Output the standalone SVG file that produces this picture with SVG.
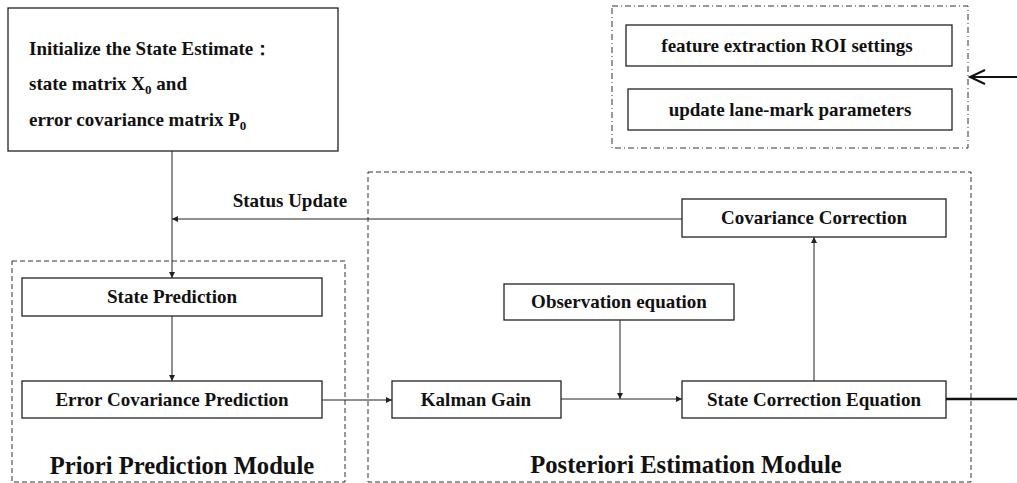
<svg xmlns="http://www.w3.org/2000/svg" width="1017" height="483" viewBox="0 0 1017 483">
<defs>
<style>
.box{fill:#fff;stroke:#222;stroke-width:1.3}
.mod{fill:none;stroke:#333;stroke-width:1;stroke-dasharray:5 3}
.roi{fill:none;stroke:#333;stroke-width:1;stroke-dasharray:6 3 1 3}
.t{font-family:"Liberation Serif","Times New Roman",serif;font-weight:bold;font-size:19px;fill:#111}
.c{text-anchor:middle}
.big{font-size:24.6px}
.ln{fill:none;stroke:#222;stroke-width:1}
</style>
<marker id="ah" markerUnits="userSpaceOnUse" markerWidth="7" markerHeight="7" refX="6" refY="3" orient="auto">
<path d="M0,0 L6,3 L0,6 z" fill="#222"/>
</marker>
</defs>
<rect width="1017" height="483" fill="#fff"/>

<g id="priori-module">
<rect class="mod" x="12" y="261" width="333" height="221"/>
<text class="t c big" x="182" y="474">Priori Prediction Module</text>
</g>
<g id="posteriori-module">
<rect class="mod" x="368" y="172" width="603" height="310"/>
<text class="t c big" x="686" y="473">Posteriori Estimation Module</text>
</g>
<g id="roi-module">
<rect class="roi" x="612" y="6" width="356" height="142"/>
</g>

<g id="init">
<rect class="box" x="8" y="8" width="330" height="143"/>
<text class="t" x="29" y="55">Initialize the State Estimate：</text>
<text class="t" x="29" y="90">state matrix X<tspan font-size="13" dy="4">0</tspan><tspan dy="-4"> and</tspan></text>
<text class="t" x="29" y="126">error covariance matrix P<tspan font-size="13" dy="4">0</tspan></text>
</g>
<g id="roi-settings">
<rect class="box" x="626" y="25" width="326" height="41"/>
<text class="t c" x="787" y="52">feature extraction ROI settings</text>
</g>
<g id="lane-params">
<rect class="box" x="628" y="89" width="324" height="41"/>
<text class="t c" x="790" y="116">update lane-mark parameters</text>
</g>
<g id="state-prediction">
<rect class="box" x="22" y="278" width="300" height="38"/>
<text class="t c" x="172" y="303">State Prediction</text>
</g>
<g id="error-cov-prediction">
<rect class="box" x="22" y="381" width="300" height="37"/>
<text class="t c" x="172" y="406">Error Covariance Prediction</text>
</g>
<g id="cov-correction">
<rect class="box" x="682" y="199" width="264" height="38"/>
<text class="t c" x="814" y="224">Covariance Correction</text>
</g>
<g id="observation">
<rect class="box" x="504" y="284" width="230" height="36"/>
<text class="t c" x="619" y="308">Observation equation</text>
</g>
<g id="kalman-gain">
<rect class="box" x="392" y="381" width="169" height="37"/>
<text class="t c" x="476" y="406">Kalman Gain</text>
</g>
<g id="state-correction">
<rect class="box" x="682" y="381" width="264" height="37"/>
<text class="t c" x="814" y="406">State Correction Equation</text>
</g>

<g id="connectors">
<line class="ln" x1="172" y1="151" x2="172" y2="278" marker-end="url(#ah)"/>
<line class="ln" x1="682" y1="219" x2="172" y2="219" marker-end="url(#ah)"/>
<text class="t c" x="290" y="207">Status Update</text>
<line class="ln" x1="172" y1="316" x2="172" y2="381" marker-end="url(#ah)"/>
<line class="ln" x1="322" y1="400" x2="392" y2="400" marker-end="url(#ah)"/>
<line class="ln" x1="561" y1="399" x2="682" y2="399" marker-end="url(#ah)"/>
<line class="ln" x1="620" y1="320" x2="620" y2="399" marker-end="url(#ah)"/>
<line class="ln" x1="814" y1="381" x2="814" y2="237" marker-end="url(#ah)"/>
<line x1="946" y1="399" x2="1017" y2="399" stroke="#111" stroke-width="2.5"/>
<line x1="1017" y1="77" x2="970" y2="77" stroke="#111" stroke-width="2"/>
<polyline points="985,70 970,77 985,84" fill="none" stroke="#111" stroke-width="2"/>
</g>
</svg>
